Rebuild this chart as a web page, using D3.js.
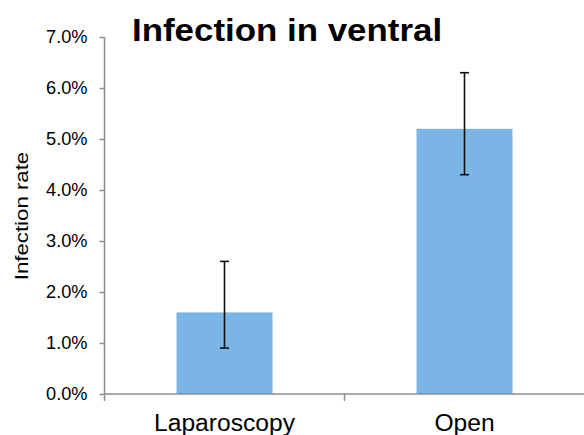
<!DOCTYPE html>
<html><head><meta charset="utf-8">
<script src="https://cdn.jsdelivr.net/npm/d3@7"></script>
<style>body{margin:0;background:#fff}svg{display:block;font-family:"Liberation Sans",Arial,sans-serif}</style>
</head><body>
<svg id="c" width="584" height="435"></svg>
<script>
const categories = ["Laparoscopy", "Open"];
const values = [0.016, 0.052];
const errLow = [0.009, 0.043];
const errHigh = [0.026, 0.063];
const yTicks = [0, 0.01, 0.02, 0.03, 0.04, 0.05, 0.06, 0.07];
const title = "Infection in ventral";
const yTitle = "Infection rate";

(function () {
const svg = d3.select("#c");
const mLeft = 104.5, mRight = 584.5, mTop = 37, mBottom = 394;
const x = d3.scaleBand().domain(categories).range([mLeft, mRight]).padding(0);
const y = d3.scaleLinear().domain([0, 0.07]).range([mBottom, mTop]);
const axisColor = "#8c8c8c";

function stretch(sel, f) {
  sel.each(function () {
    const w = this.getComputedTextLength();
    d3.select(this).attr("textLength", w * f).attr("lengthAdjust", "spacingAndGlyphs");
  });
}

// bars
const bw = x.bandwidth() * 0.4;
svg.selectAll("rect.bar").data(categories).join("rect")
  .attr("x", d => x(d) + (x.bandwidth() - bw) / 2)
  .attr("y", (d, i) => y(values[i]))
  .attr("width", bw)
  .attr("height", (d, i) => y(0) - y(values[i]))
  .attr("fill", "#7ab5e5");

// y axis
const yAxis = d3.axisLeft(y).tickValues(yTicks).tickFormat(d3.format(".1%")).tickSize(5).tickPadding(12);
const gy = svg.append("g").attr("transform", `translate(${mLeft},0)`).call(yAxis);
gy.select(".domain").attr("stroke", axisColor).attr("stroke-width", 1.5).attr("d", `M0,${mTop}V${mBottom + 7}`);
gy.selectAll(".tick line").attr("stroke", axisColor).attr("stroke-width", 1.5);
gy.selectAll(".tick text").attr("font-size", 17.5).attr("fill", "#000").attr("x", -17)
  .attr("font-family", "Liberation Sans, Arial, sans-serif");
stretch(gy.selectAll(".tick text"), 1.04);

// x axis
const gx = svg.append("g").attr("transform", `translate(0,${mBottom})`);
gx.append("line").attr("x1", mLeft).attr("x2", mRight).attr("stroke", axisColor).attr("stroke-width", 1.5);
const bounds = [x(categories[1])];
gx.selectAll("line.tk").data(bounds).join("line").attr("class", "tk")
  .attr("x1", d => d).attr("x2", d => d).attr("y1", 0).attr("y2", 7)
  .attr("stroke", axisColor).attr("stroke-width", 1.5);
const xl = gx.selectAll("text").data(categories).join("text")
  .attr("x", d => x(d) + x.bandwidth() / 2).attr("y", 37)
  .attr("text-anchor", "middle").attr("font-size", 23).attr("fill", "#000")
  .text(d => d);
stretch(xl, 1.07);

// error bars
const eb = svg.append("g").attr("stroke", "#111").attr("stroke-width", 1.6);
categories.forEach((c, i) => {
  const cx = x(c) + x.bandwidth() / 2;
  eb.append("line").attr("x1", cx).attr("x2", cx).attr("y1", y(errLow[i])).attr("y2", y(errHigh[i]));
  eb.append("line").attr("x1", cx - 4.5).attr("x2", cx + 4.5).attr("y1", y(errLow[i])).attr("y2", y(errLow[i]));
  eb.append("line").attr("x1", cx - 4.5).attr("x2", cx + 4.5).attr("y1", y(errHigh[i])).attr("y2", y(errHigh[i]));
});

// titles
const tt = svg.append("text").attr("x", 132).attr("y", 41).attr("font-size", 32).attr("font-weight", "bold").text(title);
stretch(tt, 1.09);
const yt = svg.append("text").attr("transform", "translate(28,216) rotate(-90)").attr("text-anchor", "middle")
  .attr("font-size", 18.5).text(yTitle);
stretch(yt, 1.2);
})();
</script>
</body></html>
